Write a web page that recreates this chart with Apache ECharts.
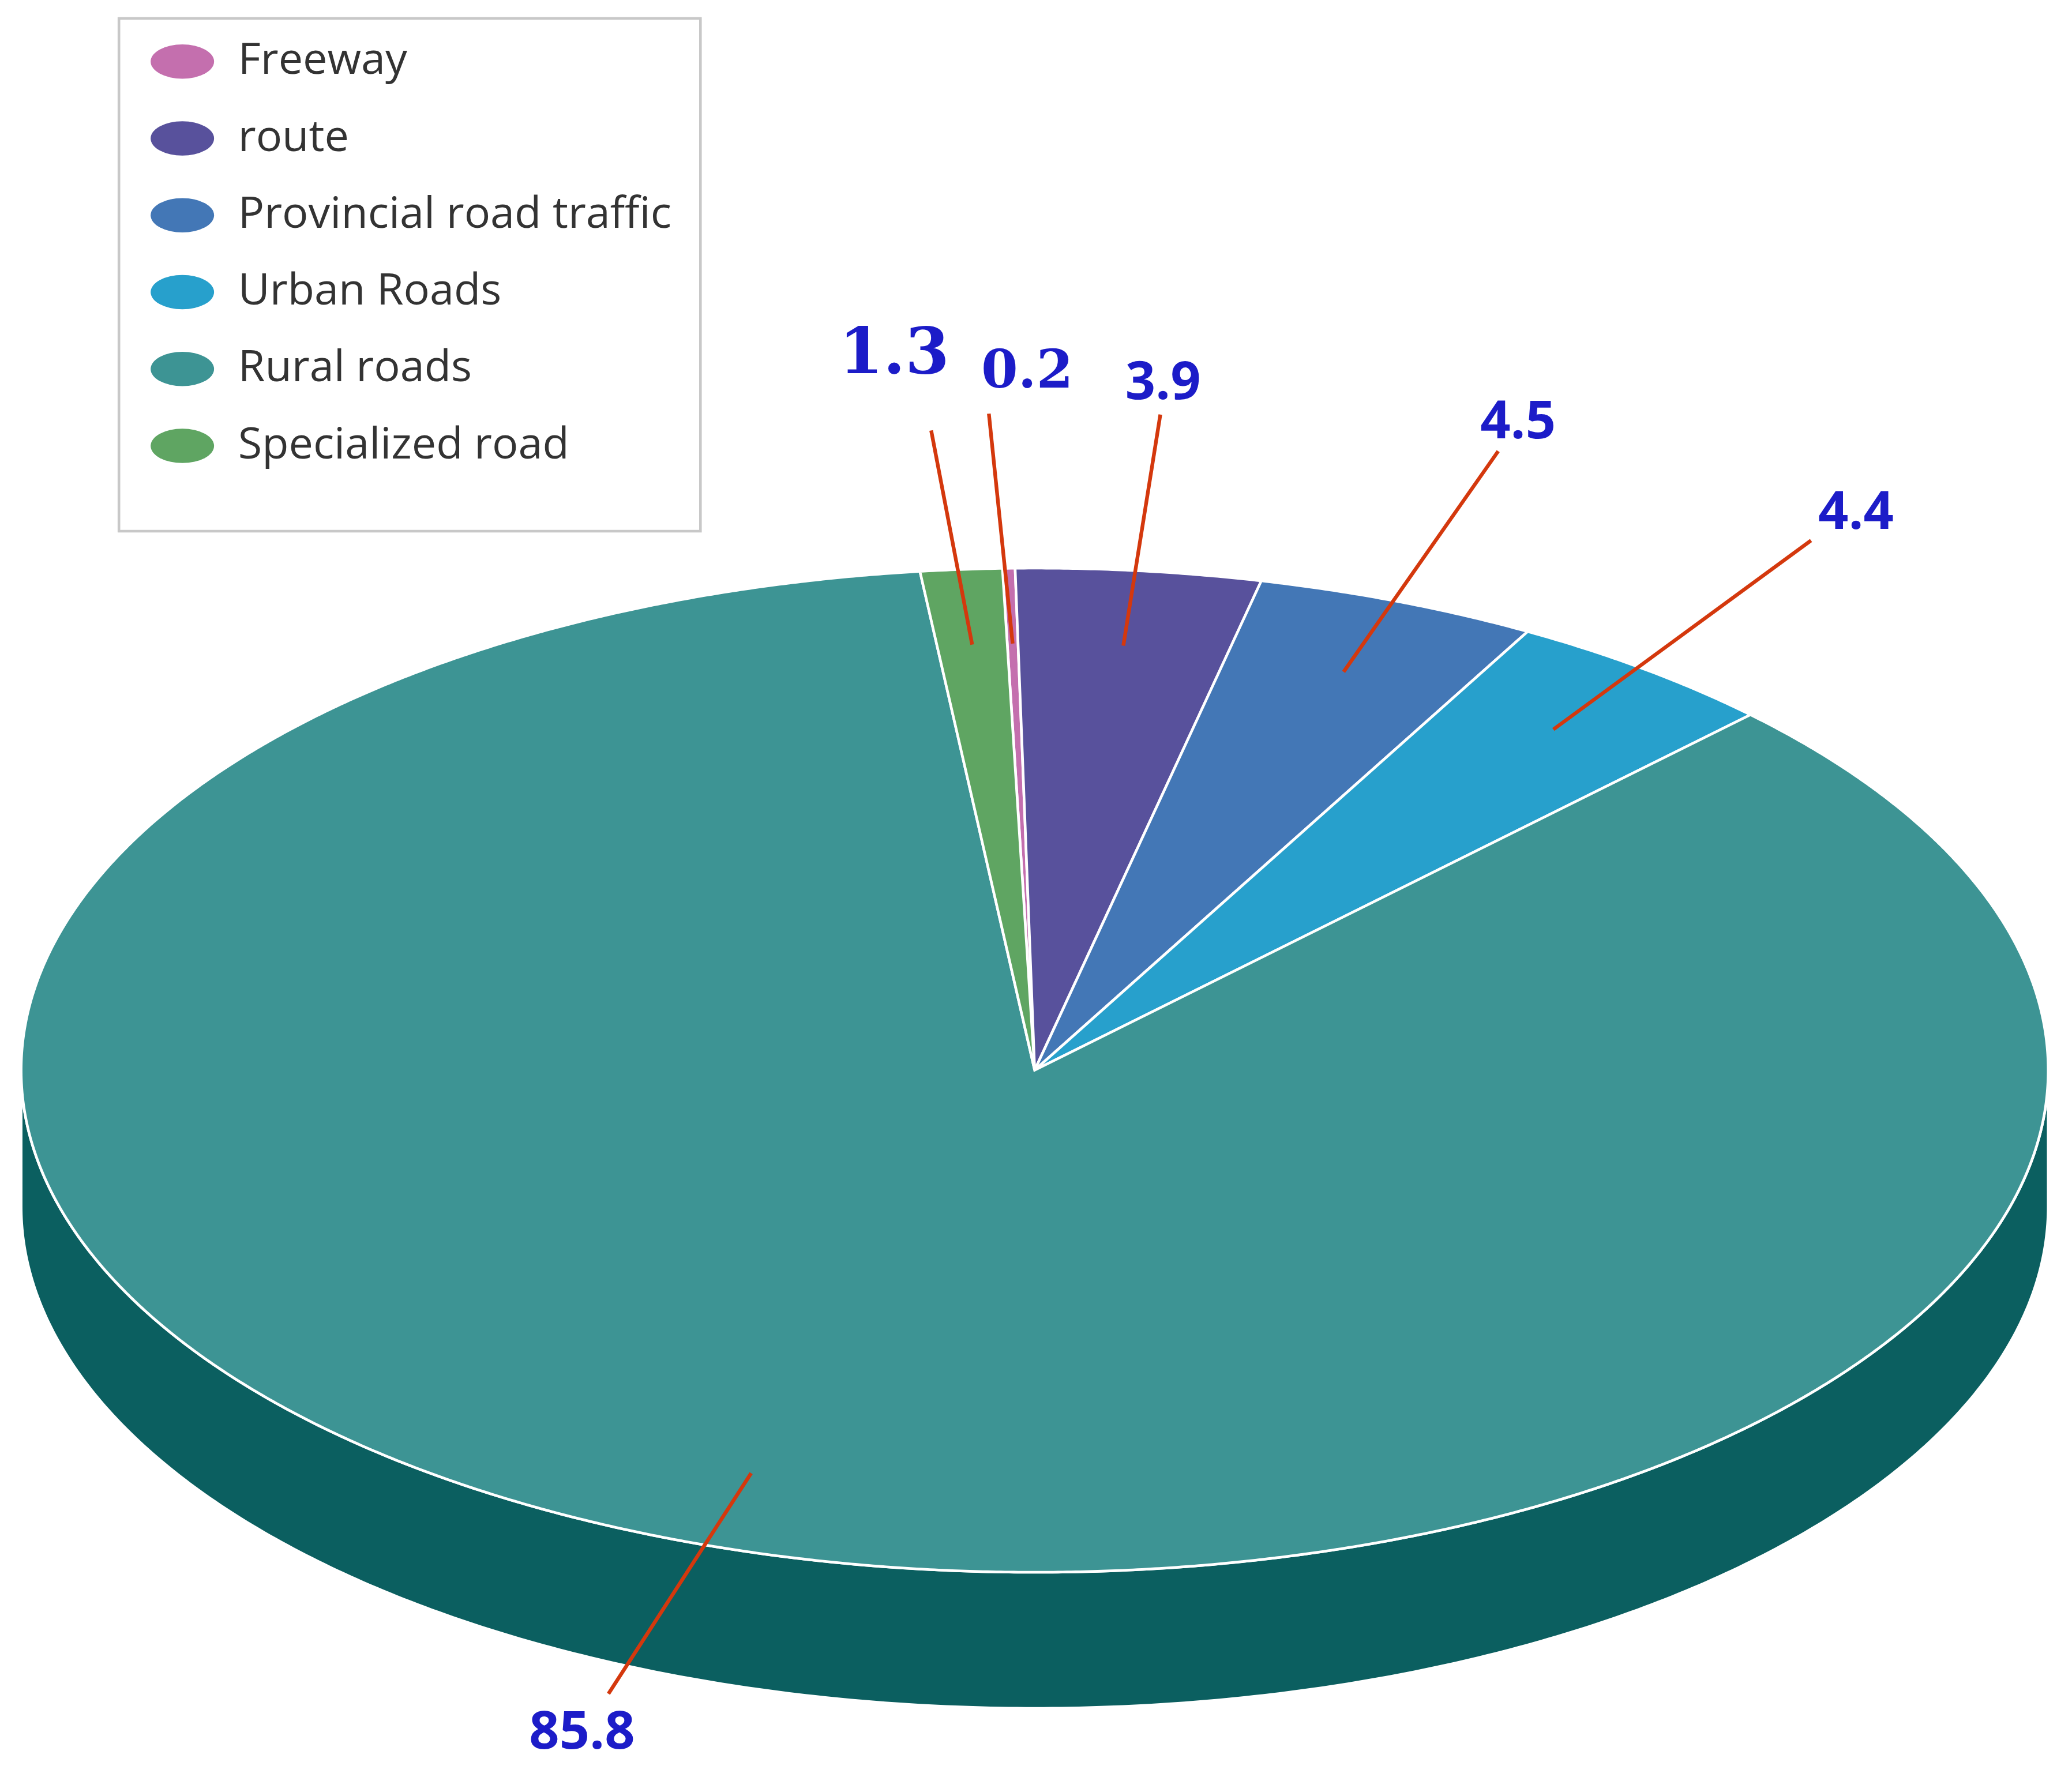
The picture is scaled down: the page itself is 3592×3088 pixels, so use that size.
<!DOCTYPE html>
<html><head><meta charset="utf-8">
<script src="https://cdn.jsdelivr.net/npm/echarts@6/dist/echarts.min.js"></script>
<style>html,body{margin:0;padding:0;background:#fff}#c{width:3592px;height:3088px}</style>
</head><body><div id="c"></div>
<script>
const categories = ['Freeway','route','Provincial road traffic','Urban Roads','Rural roads','Specialized road'];
const values = [0.2, 3.9, 4.5, 4.4, 85.8, 1.3];
const labels = ['0.2','3.9','4.5','4.4','85.8','1.3'];
// drawing order clockwise from the top
const order = [5, 0, 1, 2, 3, 4];
const colors = ['#c46fae','#58519c','#4377b6','#27a0cc','#3d9494','#5fa562'];
const sideColor = '#0b5f60';
// leader line end / label position offsets (reference px) relative to anchor
const labelStyle = {
  5:{end:[-31,-162], lab:[-59,-218], family:'DejaVu Serif', size:48},
  0:{end:[-18,-174], lab:[11,-204], family:'DejaVu Serif', size:40},
  1:{end:[28,-175], lab:[30,-198], size:40},
  2:{end:[117,-167], lab:[132,-188], size:40},
  3:{end:[195,-143], lab:[229,-163], size:40},
  4:{end:[-108,167], lab:[-128,197], size:40}
};

const chart = echarts.init(document.getElementById('c'));
const W = 3592, s = W / 1568;
const CX = 783*s, CY = 810*s, RX = 767*s, RY = 380*s, DEPTH = 103*s, START = -6.5;
const total = values.reduce((a,b)=>a+b,0);
const startAngles = {}; let acc = START;
order.forEach(i => { startAngles[i] = [acc, acc + values[i]/total*360]; acc += values[i]/total*360; });
const pt = (t, f=1, dy=0) => { const r = t*Math.PI/180; return [CX + f*RX*Math.sin(r), CY - f*RY*Math.cos(r) + dy]; };

function sliceItem(i){
  return function(params, api){
    const [a0, a1] = startAngles[i];
    const pts = [[CX, CY]];
    for (let t=a0; t<a1; t+=0.25) pts.push(pt(t));
    pts.push(pt(a1));
    const mid = (a0+a1)/2, anc = pt(mid, 0.85);
    const ls = labelStyle[i];
    const end = [anc[0]+ls.end[0]*s, anc[1]+ls.end[1]*s];
    const lab = [anc[0]+ls.lab[0]*s, anc[1]+ls.lab[1]*s];
    return {type:'group', children:[
      {type:'polygon', shape:{points:pts}, style:{fill:colors[i], stroke:'#ffffff', lineWidth:2*s}, z2:1},
      {type:'line', shape:{x1:anc[0],y1:anc[1],x2:end[0],y2:end[1]}, style:{stroke:'#d4380d', lineWidth:2.8*s}, z2:5},
      {type:'text', x:lab[0], y:lab[1], style:{text:labels[i], fill:'#1c1cc8', fontSize:ls.size*s, fontWeight:'bold', fontFamily:ls.family||'Open Sans', align:'center', verticalAlign:'middle'}, z2:6}
    ]};
  };
}
function sideItem(){
  const pts = [];
  for (let t=90; t<=270; t+=0.5) pts.push(pt(t));
  for (let t=270; t>=90; t-=0.5) pts.push(pt(t,1,DEPTH));
  return {type:'polygon', shape:{points:pts}, style:{fill:sideColor, stroke:'#ffffff', lineWidth:2*s}};
}
const series = [{type:'custom', name:'_side', coordinateSystem:'none', data:[0], renderItem:sideItem, silent:true, z:1}];
categories.forEach((c,i)=>series.push({type:'custom', name:c, coordinateSystem:'none', data:[values[i]], renderItem:sliceItem(i), itemStyle:{color:colors[i]}, z:2}));

chart.setOption({
  animation:false,
  backgroundColor:'#ffffff',
  legend:{data:categories, orient:'vertical', left:90*s, top:14*s,
    icon:'path://M0,13a24,13 0 1,0 48,0a24,13 0 1,0 -48,0z', itemWidth:48*s, itemHeight:26*s, itemGap:25*s,
    padding:[16*s, 22*s, 48*s, 24*s], borderColor:'#c8c8c8', borderWidth:2*s, backgroundColor:'#fff',
    textStyle:{fontSize:33*s, color:'#333', fontFamily:'Open Sans', padding:[0,0,0,16*s]}},
  series
});
</script></body></html>
